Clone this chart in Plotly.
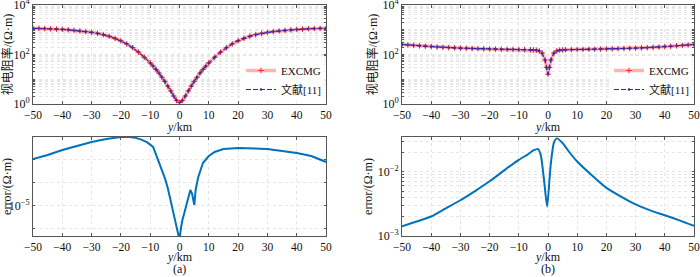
import plotly.graph_objects as go

# ---------------- data ----------------
# (a) apparent resistivity (Ohm*m)
x_a = [-50, -48, -46, -44, -42, -40, -38, -36, -34, -32, -30, -28, -26, -24, -22, -20, -18, -16, -14, -12,
       -10, -9, -8, -7, -6, -5, -4, -3, -2, -1, 0, 1, 2, 3, 4, 5, 6, 7, 8, 9, 10,
       12, 14, 16, 18, 20, 22, 24, 26, 28, 30, 32, 34, 36, 38, 40, 42, 44, 46, 48, 50]
rho_a = [1150, 1140, 1120, 1100, 1070, 1040, 1000, 950, 900, 850, 790, 720, 640, 550, 450, 360, 270, 190, 125, 78,
         46, 34, 25, 18, 12, 8.2, 5.3, 3.4, 2.1, 1.4, 1.15, 1.4, 2.1, 3.4, 5.3, 8.2, 12, 18, 25, 34, 46,
         78, 125, 190, 270, 360, 450, 550, 640, 720, 790, 850, 900, 950, 1000, 1040, 1070, 1100, 1120, 1140, 1150]

# (b) apparent resistivity (Ohm*m)
x_b = [-50, -48, -46, -44, -42, -40, -38, -36, -34, -32, -30, -28, -26, -24, -22, -20, -18, -16, -14, -12,
       -10, -8, -6, -5, -4, -3, -2, -1, -0.5, 0, 0.5, 1, 2, 3, 4, 5, 6, 8, 10,
       12, 14, 16, 18, 20, 22, 24, 26, 28, 30, 32, 34, 36, 38, 40, 42, 44, 46, 48, 50]
rho_b = [255, 245, 235, 225, 215, 208, 200, 195, 190, 186, 182, 178, 175, 172, 170, 168, 166, 164, 163, 161,
         160, 158, 156, 154, 150, 140, 115, 60, 30, 16, 30, 60, 115, 140, 150, 154, 156, 158, 160,
         161, 163, 164, 166, 168, 170, 172, 175, 178, 182, 186, 190, 195, 200, 208, 215, 225, 235, 245, 255]

# (a) error (Ohm*m)
xe_a = [-50, -45, -40, -35, -30, -25, -20, -17, -15, -13, -11, -9, -8, -7, -6, -5, -4, -3, -2, -1, -0.4, 0,
        0.5, 1, 2, 3, 3.7, 4.3, 4.8, 5.05, 5.5, 6.4, 8, 10, 12, 15, 20, 25, 30, 35, 40, 45, 50]
err_a = [4.12e-5, 4.65e-5, 5.41e-5, 6.10e-5, 6.88e-5, 7.53e-5, 8.0e-5, 8.0e-5, 7.8e-5, 7.4e-5, 6.8e-5, 5.92e-5,
         4.65e-5, 3.77e-5, 3.05e-5, 2.32e-5, 1.72e-5, 1.20e-5, 7.86e-6, 5.47e-6, 4.30e-6, 3.6e-6,
         5.15e-6, 6.56e-6, 9.14e-6, 1.35e-5, 1.62e-5, 1.44e-5, 1.13e-5, 1.03e-5, 1.62e-5, 2.40e-5, 3.65e-5,
         4.51e-5, 5.09e-5, 5.57e-5, 5.74e-5, 5.70e-5, 5.57e-5, 5.25e-5, 4.94e-5, 4.51e-5, 3.77e-5]

# (b) error (Ohm*m)
xe_b = [-50, -45, -40, -35, -30, -25, -20, -15, -10, -7, -5, -3.5, -2.5, -1.5, -0.3, 0.5, 1, 2, 3, 5, 7,
        10, 15, 20, 25, 30, 35, 40, 45, 50]
err_b = [1.41e-3, 1.68e-3, 2.01e-3, 2.7e-3, 3.6e-3, 5.0e-3, 7.1e-3, 1.05e-2, 1.53e-2, 1.85e-2, 2.14e-2, 2.26e-2,
         1.83e-2, 8.5e-3, 2.86e-3, 7.5e-3, 1.38e-2, 2.8e-2, 3.3e-2, 2.8e-2, 2.1e-2,
         1.44e-2, 8.8e-3, 5.6e-3, 4.1e-3, 3.1e-3, 2.5e-3, 2.1e-3, 1.75e-3, 1.44e-3]

x_ticks = [-50, -40, -30, -20, -10, 0, 10, 20, 30, 40, 50]
rho_tick_vals = [1, 100, 10000]
rho_tick_text = ["10<sup>0</sup>", "10<sup>2</sup>", "10<sup>4</sup>"]
err_a_grid_vals = [5e-6, 1e-5, 2e-5, 4e-5]
err_a_grid_text = ["", "10<sup>−5</sup>", "", ""]
err_b_tick_vals = [1e-3, 1e-2]
err_b_tick_text = ["10<sup>−3</sup>", "10<sup>−2</sup>"]
legend_names = ["EXCMG", "文献[11]"]

# ---------------- styling ----------------
FONT = "Liberation Serif, Times New Roman, Noto Sans CJK SC, serif"
W, H = 700, 277
AX = "#555555"
GRID = "#e6e6e6"
FS = 11


def px_x(a, b):
    return [a / W, b / W]


def px_y(top, bottom):
    return [(H - bottom) / H, (H - top) / H]


def log_ticks(lo_exp, hi_exp, labeled_vals, labeled_text):
    vals, text = [], []
    for e in range(lo_exp, hi_exp + 1):
        for m in range(1, 10):
            v = m * 10 ** e
            vals.append(v)
            lab = ""
            for lv, lt in zip(labeled_vals, labeled_text):
                if abs(v - lv) / lv < 1e-9:
                    lab = lt
            text.append(lab)
    return vals, text


fig = go.Figure()

# top panels
for i, (xs, ys, leg) in enumerate([(x_a, rho_a, "legend"), (x_b, rho_b, "legend2")]):
    xa = "x" if i == 0 else "x2"
    ya = "y" if i == 0 else "y2"
    fig.add_trace(go.Scatter(
        x=xs, y=ys, xaxis=xa, yaxis=ya, name=legend_names[0], legend=leg,
        mode="lines+markers",
        line=dict(color="rgba(255,120,120,0.55)", width=3.5),
        marker=dict(symbol="cross-thin", size=4, color="#ff2a2a", line=dict(color="#ff2a2a", width=1)),
    ))
    fig.add_trace(go.Scatter(
        x=xs, y=ys, xaxis=xa, yaxis=ya, name=legend_names[1], legend=leg,
        mode="lines+markers",
        line=dict(color="#2a2ab0", width=1.2, dash="5px,2px"),
        marker=dict(symbol="circle-open", size=2, color="#2a2ab0", line=dict(width=0.8)),
    ))

# bottom panels
fig.add_trace(go.Scatter(x=xe_a, y=err_a, xaxis="x3", yaxis="y3", mode="lines",
                         line=dict(color="#0072BD", width=2), showlegend=False))
fig.add_trace(go.Scatter(x=xe_b, y=err_b, xaxis="x4", yaxis="y4", mode="lines",
                         line=dict(color="#0072BD", width=2, shape="spline", smoothing=0.6),
                         showlegend=False))


def xaxis(domain, anchor):
    return dict(domain=domain, anchor=anchor, range=[-50, 50], tickvals=x_ticks,
                showgrid=True, gridcolor=GRID, griddash="dot", gridwidth=1,
                showline=True, mirror="ticks", linecolor=AX, linewidth=1,
                ticks="inside", ticklen=3, tickcolor=AX, zeroline=False, automargin=False,
                ticklabeloverflow="allow",
                tickfont=dict(size=FS + 0.5, color="#111"))


def yaxis(domain, anchor, rng, tv, tt, title, standoff):
    return dict(domain=domain, anchor=anchor, type="log", range=rng, tickvals=tv, ticktext=tt,
                showgrid=True, gridcolor=GRID, griddash="dot", gridwidth=1,
                showline=True, mirror="ticks", linecolor=AX, linewidth=1,
                ticks="inside", ticklen=2, tickcolor=AX, zeroline=False, automargin=False,
                ticklabeloverflow="allow",
                tickfont=dict(size=FS + 1, color="#111"),
                title=dict(text=title, font=dict(size=FS + 1, color="#111"), standoff=standoff))


tv_rho, tt_rho = log_ticks(0, 3, rho_tick_vals, rho_tick_text)
tv_rho.append(10000); tt_rho.append(rho_tick_text[2])
tv_eb, tt_eb = log_ticks(-3, -2, err_b_tick_vals, err_b_tick_text)

xl = px_x(33, 326)
xr = px_x(402, 694)
yt = px_y(5, 104)
yb = px_y(137, 236)


def ann(text, xpx, ypx):
    return dict(text=text, x=xpx / W, y=(H - ypx) / H, xref="paper", yref="paper",
                xanchor="center", yanchor="middle", showarrow=False, font=dict(size=FS + 1, color="#111"))


fig.update_layout(
    width=W, height=H, margin=dict(l=0, r=0, t=0, b=0, autoexpand=False),
    paper_bgcolor="white", plot_bgcolor="white",
    font=dict(family=FONT, size=FS, color="#111"),
    xaxis=xaxis(xl, "y"), yaxis=yaxis(yt, "x", [0, 4.003], tv_rho, tt_rho, "视电阻率/(Ω·m)", 2),
    xaxis2=xaxis(xr, "y2"), yaxis2=yaxis(yt, "x2", [0, 4.003], tv_rho, tt_rho, "视电阻率/(Ω·m)", 2),
    xaxis3=xaxis(xl, "y3"),
    yaxis3=yaxis(yb, "x3", [-5.393, -4.097], err_a_grid_vals, err_a_grid_text, "error/(Ω·m)", 2),
    xaxis4=xaxis(xr, "y4"), yaxis4=yaxis(yb, "x4", [-3, -1.46], tv_eb, tt_eb, "error/(Ω·m)", 2),
    legend=dict(x=326 / W, xanchor="right", y=(H - 104) / H, yanchor="bottom",
                bgcolor="rgba(255,255,255,0.9)", borderwidth=0, font=dict(size=FS),
                tracegroupgap=0, itemwidth=30),
    legend2=dict(x=694 / W, xanchor="right", y=(H - 104) / H, yanchor="bottom",
                 bgcolor="rgba(255,255,255,0.9)", borderwidth=0, font=dict(size=FS),
                 tracegroupgap=0, itemwidth=30),
    annotations=[
        ann("<i>y</i>/km", (33 + 326) / 2, 127),
        ann("<i>y</i>/km", (402 + 694) / 2, 127),
        ann("<i>y</i>/km", (33 + 326) / 2, 257),
        ann("<i>y</i>/km", (402 + 694) / 2, 257),
        ann("(a)", (33 + 326) / 2, 269),
        ann("(b)", (402 + 694) / 2, 269),
    ],
)

fig.write_html("out.html", config={"displayModeBar": False},
               post_script="document.body.style.margin='0';document.body.style.overflow='hidden';")
